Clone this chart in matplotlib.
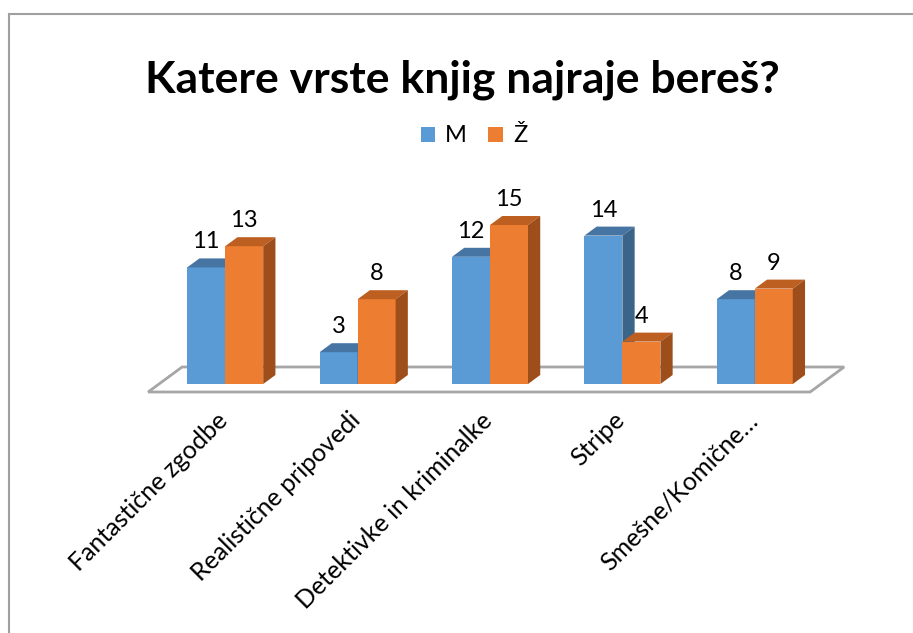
import matplotlib.pyplot as plt
from matplotlib.patches import Polygon, Rectangle, Patch

# Data
categories = ['Fantastične zgodbe', 'Realistične pripovedi', 'Detektivke in kriminalke',
              'Stripe', 'Smešne/Komične…']
series = ['M', 'Ž']
values_m = [11, 3, 12, 14, 8]
values_z = [13, 8, 15, 4, 9]

plt.rcParams['font.family'] = ['Lato', 'DejaVu Sans']

W, H = 913, 633
PX_X = 132.4   # pixels per category
PX_Y = 10.6    # pixels per value unit
X0_PX = 159.0  # left of first category at bar-front depth
Y0_PX = 384.0  # baseline (value 0) at bar-front depth, from top

# oblique depth (full floor depth) in data units
DX = 34 / PX_X
DY = 25 / PX_Y
D_FRONT = 0.32   # bar front depth (fraction of floor)
D_BACK = 0.68    # bar back depth

faces = {
    'M': ('#5B9BD5', '#4675A4', '#3B6588'),
    'Ž': ('#ED7D31', '#BE5F22', '#9E4E1A'),
}


def proj(x, v, d):
    # oblique projection: shift by depth relative to the bar front plane
    return (x + (d - D_FRONT) * DX, v + (d - D_FRONT) * DY)


fig = plt.figure(figsize=(W / 100, H / 100), dpi=100)
ax = fig.add_axes([0, 0, 1, 1])
ax.set_xlim(-0.5 - X0_PX / PX_X, -0.5 + (W - X0_PX) / PX_X)
ax.set_ylim((Y0_PX - H) / PX_Y, Y0_PX / PX_Y)
ax.axis('off')

# chart border (left and top visible)
fig.patches.append(Rectangle((8.5, -20), W + 40, H - 13.5 + 20, transform=None,
                             fill=False, edgecolor='#A0A0A0', linewidth=1.5))

# floor
n = len(categories)
floor = [proj(-0.5, 0, 0), proj(n - 0.5, 0, 0), proj(n - 0.5, 0, 1), proj(-0.5, 0, 1)]
ax.add_patch(Polygon(floor, closed=True, facecolor='white', edgecolor='#A6A6A6',
                     linewidth=2, zorder=1))

bar_w = 0.287
for i in range(n):
    for j, (name, vals) in enumerate(zip(series, [values_m, values_z])):
        v = vals[i]
        front, top, side = faces[name]
        x_l = i - bar_w + j * bar_w
        x_r = x_l + bar_w
        z = 3 + j
        # front face
        ax.add_patch(Polygon([proj(x_l, 0, D_FRONT), proj(x_r, 0, D_FRONT),
                              proj(x_r, v, D_FRONT), proj(x_l, v, D_FRONT)],
                             facecolor=front, edgecolor='none', zorder=z))
        # top face
        ax.add_patch(Polygon([proj(x_l, v, D_FRONT), proj(x_r, v, D_FRONT),
                              proj(x_r, v, D_BACK), proj(x_l, v, D_BACK)],
                             facecolor=top, edgecolor='none', zorder=z))
        # side face
        ax.add_patch(Polygon([proj(x_r, 0, D_FRONT), proj(x_r, 0, D_BACK),
                              proj(x_r, v, D_BACK), proj(x_r, v, D_FRONT)],
                             facecolor=side, edgecolor='none', zorder=z))
        # value label
        lx, ly = proj((x_l + x_r) / 2, v, D_BACK)
        ax.text((x_l + x_r) / 2, ly + 10 / PX_Y, str(v), ha='center', va='baseline',
                fontsize=17, color='black', zorder=10)

# category labels
for i, cat in enumerate(categories):
    ax.text(i - 0.07, -2.3, cat, rotation=45, rotation_mode='anchor',
            ha='right', va='top', fontsize=18, color='black')

# title
fig.text(462 / W, 1 - 93 / H, 'Katere vrste knjig najraje bereš?', ha='center',
         va='baseline', fontsize=32, fontweight='bold')

# legend
handles = [Patch(facecolor=faces[s][0], edgecolor='none', label=s) for s in series]
fig.legend(handles=handles, loc='center', bbox_to_anchor=(474 / W, 1 - 136 / H),
           ncol=2, frameon=False, fontsize=17, handlelength=0.6, handleheight=0.6,
           handletextpad=0.45, columnspacing=0.9)

fig.savefig('out.png', dpi=100)
